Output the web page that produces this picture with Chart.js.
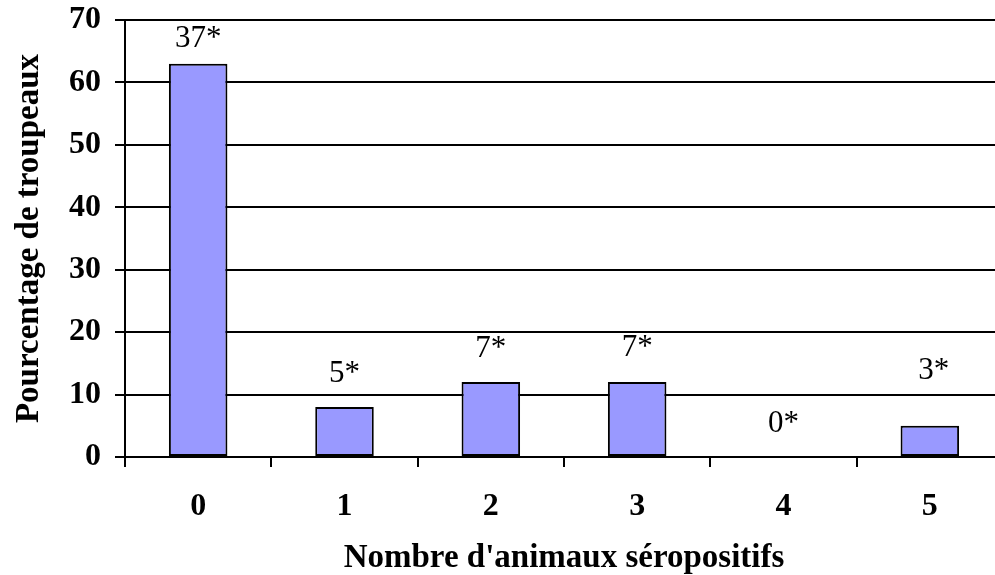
<!DOCTYPE html>
<html>
<head>
<meta charset="utf-8">
<script src="https://cdn.jsdelivr.net/npm/chart.js@4/dist/chart.umd.min.js"></script>
<style>
  html, body { margin: 0; padding: 0; background: #ffffff; overflow: hidden; }
  #wrap { width: 1010px; height: 575px; position: relative; }
</style>
</head>
<body>
<div id="wrap"><canvas id="chart"></canvas></div>
<script>
// Herd distribution by number of seropositive animals
const categories = ['0', '1', '2', '3', '4', '5'];
const herdPercent = [63, 8, 12, 12, 0, 5];
const herdCountLabels = ['37*', '5*', '7*', '7*', '0*', '3*'];
const yTickValues = [0, 10, 20, 30, 40, 50, 60, 70];

const SERIF = '"Times New Roman", "Liberation Serif", serif';

// Writes the herd count above each bar
const countLabels = {
  id: 'countLabels',
  afterDatasetsDraw(chart, args, opts) {
    const ctx = chart.ctx;
    const meta = chart.getDatasetMeta(0);
    ctx.save();
    ctx.font = opts.font;
    ctx.fillStyle = '#000000';
    ctx.textAlign = 'center';
    ctx.textBaseline = 'middle';
    meta.data.forEach((bar, i) => {
      ctx.fillText(herdCountLabels[i], bar.x + (opts.shift[i] || 0), bar.y - opts.lift[i]);
    });
    ctx.restore();
  }
};

new Chart(document.getElementById('chart'), {
  type: 'bar',
  data: {
    labels: categories,
    datasets: [{
      data: herdPercent,
      backgroundColor: '#9999FF',
      borderColor: '#000000',
      borderWidth: 2,
      borderSkipped: false,
      categoryPercentage: 1.0,
      barPercentage: 0.4
    }]
  },
  options: {
    responsive: true,
    maintainAspectRatio: false,
    animation: false,
    layout: { padding: { top: 20, right: 7, left: 0, bottom: 0 } },
    plugins: {
      legend: { display: false },
      tooltip: { enabled: false },
      countLabels: {
        font: '31px ' + SERIF,
        lift: [25, 33, 33, 34, 33, 55],
        shift: [0, 0, 0, 0, 0, 4]
      }
    },
    scales: {
      x: {
        offset: true,
        grid: {
          offset: true,
          drawOnChartArea: false,
          color: '#000000',
          lineWidth: 2,
          tickLength: 10
        },
        border: { display: true, color: '#000000', width: 2 },
        ticks: {
          color: '#000000',
          font: { family: SERIF, size: 32, weight: 'bold' },
          padding: 21
        },
        title: {
          display: true,
          text: "Nombre d'animaux séropositifs",
          color: '#000000',
          font: { family: SERIF, size: 33, weight: 'bold', lineHeight: 1 },
          padding: { top: 0, bottom: 0 }
        },
        afterFit(scale) { scale.height = 118; }
      },
      y: {
        min: 0,
        max: 70,
        afterBuildTicks(scale) {
          scale.ticks = yTickValues.map(v => ({ value: v }));
        },
        grid: {
          color: '#000000',
          lineWidth: 2,
          tickLength: 10
        },
        border: { display: true, color: '#000000', width: 2 },
        ticks: {
          color: '#000000',
          font: { family: SERIF, size: 32, weight: 'bold' },
          padding: 14
        },
        title: {
          display: true,
          text: 'Pourcentage de troupeaux',
          color: '#000000',
          font: { family: SERIF, size: 33, weight: 'bold' },
          padding: { top: 10, bottom: 0 }
        },
        afterFit(scale) {
          scale.width = 125;
          scale.paddingTop = 0;
          scale.paddingBottom = 0;
        }
      }
    }
  },
  plugins: [countLabels]
});
</script>
</body>
</html>
